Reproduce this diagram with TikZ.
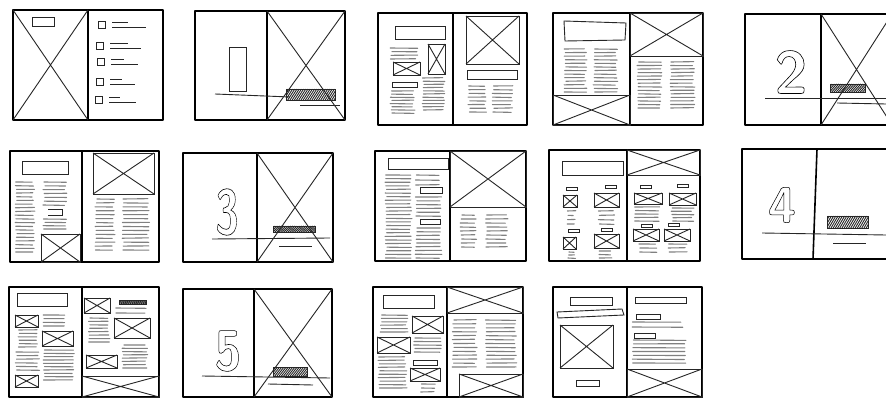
\documentclass[tikz,border=0pt]{standalone}
\tikzset{
  frm/.style={line width=1.6pt, black, line join=round},
  thn/.style={line width=0.9pt, black!85},
  txt/.style={line width=1.1pt, black!50, line cap=round},
  hatchl/.style={line width=0.9pt, black!85},
  digit/.style={inner sep=0pt, font=\sffamily\bfseries\fontsize{60}{60}\selectfont}
}
\newcommand\outl[1]{\special{pdf:literal direct 1 Tr 0.6 w}#1\special{pdf:literal direct 0 Tr}}
\newcommand\spread[5]{\draw[frm] (#1,#2) rectangle (#3,#4); \draw[frm] (#5,#2) -- (#5,#4);}
\newcommand\imgx[4]{\draw[thn] (#1,#2) rectangle (#3,#4); \draw[thn] (#1,#2) -- (#3,#4) (#1,#4) -- (#3,#2);}
\newcommand\rbox[4]{\draw[thn] (#1,#2) rectangle (#3,#4);}
\newcommand\tlines[5]{%
  \pgfmathsetmacro\tlstep{(#4-#2)/max(#5-1,1)}%
  \foreach \i in {1,...,#5}{%
    \draw[txt] ({#1+2*rnd},{#2+(\i-1)*\tlstep}) -- ({#3-3*rnd},{#2+(\i-1)*\tlstep+0.8*(rnd-0.5)});
  }%
}
\newcommand\hatchbar[4]{%
  \begin{scope}
    \clip (#1,#2) rectangle (#3,#4);
    \foreach \k in {0,2.2,...,66} \draw[hatchl] ({#1+\k-7},#4) -- ({#1+\k},#2);
  \end{scope}
  \draw[thn] (#1,#2) rectangle (#3,#4);}
\begin{document}
\begin{tikzpicture}[x=1pt,y=-1pt]
\pgfmathsetseed{7}
\fill[white] (0,0) rectangle (886,398);
\clip (0,0) rectangle (886,398);

% ---------- 1 ----------
\spread{13}{10}{163}{120}{88}
\draw[thn] (13,10) -- (88,120) (88,10) -- (13,120);
\rbox{32}{17}{54}{26}
\foreach \sx/\sy/\la/\lb in {98/21/128/146, 96/42/128/141, 97/58/124/138, 96/78/122/135, 95/96/120/136}{
  \draw[thn] (\sx,\sy) rectangle ++(7,7);
  \draw[thn] (\sx+14,\sy+1) -- (\la,\sy+1);
  \draw[thn] (\sx+14,\sy+6) -- (\lb,\sy+6);
}

% ---------- 2 ----------
\spread{195}{11}{345}{120}{267}
\draw[thn] (267,11) -- (345,120) (345,11) -- (267,120);
\rbox{229}{47}{246}{91}
\draw[thn] (215,94) -- (290,97);
\hatchbar{286}{89}{335}{100}
\draw[thn] (300,105) -- (340,105);

% ---------- 3 ----------
\spread{378}{13}{527}{125}{453}
\rbox{395}{26}{445}{39}
\tlines{390}{48}{418}{59}{4}
\imgx{393}{62}{420}{75}
\imgx{428}{44}{445}{74}
\rbox{392}{82}{417}{87}
\tlines{390}{91}{415}{113}{8}
\tlines{422}{78}{445}{110}{11}
\imgx{466}{16}{519}{64}
\rbox{467}{70}{517}{79}
\tlines{468}{86}{487}{112}{8}
\tlines{492}{86}{513}{112}{8}

% ---------- 4 ----------
\spread{553}{13}{703}{125}{630}
\imgx{630}{13}{703}{56}
\draw[thn] (564,21) -- (626,23) -- (625,40) -- (565,41) -- cycle;
\tlines{564}{49}{587}{92}{13}
\tlines{593}{49}{618}{92}{13}
\imgx{553}{95}{630}{125}
\tlines{637}{62}{662}{108}{14}
\tlines{670}{62}{695}{108}{14}

% ---------- 5 ----------
\spread{745}{14}{892}{125}{821}
\draw[thn] (821,14) -- (892,125) (892,14) -- (821,125);
\node[digit] (d2) at (791,72) {\outl{2}};
\draw[thn] (765,98) -- (886,98);
\hatchbar{830}{84}{865}{92}
\draw[thn] (837,103) -- (886,104);

% ---------- 6 ----------
\spread{10}{151}{159}{262}{82}
\rbox{22}{161}{68}{174}
\tlines{15}{182}{35}{252}{20}
\tlines{43}{182}{67}{205}{7}
\draw[thn] (48,209) -- (62,209) -- (62,215) -- (48,215);
\tlines{43}{219}{67}{229}{4}
\imgx{41}{234}{80}{262}
\imgx{93}{153}{154}{194}
\tlines{95}{199}{115}{250}{14}
\tlines{122}{199}{150}{250}{14}

% ---------- 7 ----------
\spread{183}{153}{333}{262}{257}
\draw[thn] (257,153) -- (333,262) (333,153) -- (257,262);
\node[digit] (d3) at (227,212) {\outl{\scalebox{0.7}[1.05]{3}}};
\draw[thn] (212,239) -- (330,238);
\hatchbar{273}{226}{315}{232}
\draw[thn] (279,246) -- (312,246);

% ---------- 8 ----------
\spread{375}{151}{526}{261}{450}
\imgx{450}{151}{526}{207}
\rbox{388}{158}{448}{169}
\tlines{385}{175}{412}{258}{24}
\tlines{415}{175}{442}{185}{3}
\rbox{420}{187}{442}{193}
\tlines{415}{197}{442}{216}{6}
\rbox{420}{219}{440}{224}
\tlines{415}{228}{442}{258}{9}
\tlines{460}{215}{477}{247}{9}
\tlines{485}{215}{508}{247}{9}

% ---------- 9 ----------
\spread{549}{150}{700}{261}{627}
\imgx{627}{150}{700}{175}
\rbox{562}{161}{623}{175}
\foreach \bx/\by/\ix/\iy/\jx/\jy in {
  566/187/563/195/577/207, 605/185/594/193/619/207,
  568/229/563/237/576/249, 601/228/594/234/619/248,
  640/185/634/193/662/204, 677/184/669/193/696/205,
  641/224/633/229/659/241, 668/223/664/229/690/241}{
  \draw[thn] (\bx,\by) rectangle ++(11,3);
  \imgx{\ix}{\iy}{\jx}{\jy}
}
\tlines{567}{211}{576}{224}{4}
\tlines{598}{211}{615}{224}{4}
\tlines{567}{252}{577}{258}{3}
\tlines{598}{251}{613}{258}{3}
\tlines{634}{207}{661}{221}{5}
\tlines{671}{208}{694}{221}{5}
\tlines{638}{244}{657}{252}{3}
\tlines{668}{244}{688}{252}{3}

% ---------- 10 ----------
\draw[frm] (742,149) rectangle (895,259);
\draw[frm] (817,149) -- (813,259);
\node[digit] (d4) at (782,205) {\outl{\scalebox{0.85}[0.85]{4}}};
\draw[thn] (762,233) -- (886,235);
\hatchbar{827}{216}{868}{228}
\draw[thn] (833,243) -- (866,243);

% ---------- 11 ----------
\spread{9}{287}{159}{397}{82}
\rbox{17}{293}{67}{306}
\imgx{15}{315}{38}{327}
\tlines{42}{315}{65}{326}{4}
\tlines{18}{330}{38}{347}{6}
\imgx{42}{331}{73}{346}
\tlines{15}{352}{40}{370}{6}
\tlines{43}{350}{75}{380}{10}
\imgx{15}{375}{38}{387}
\imgx{84}{298}{110}{313}
\hatchbar{119}{300}{146}{304}
\tlines{115}{308}{147}{313}{2}
\tlines{88}{318}{110}{342}{8}
\imgx{114}{318}{150}{338}
\imgx{86}{355}{117}{368}
\tlines{122}{345}{148}{368}{8}
\imgx{82}{376}{159}{397}

% ---------- 12 ----------
\spread{183}{289}{332}{397}{254}
\draw[thn] (254,289) -- (332,397) (332,289) -- (254,397);
\node[digit] (d5) at (228,351) {\outl{\scalebox{0.8}[0.95]{5}}};
\draw[thn] (202,376) -- (330,378);
\hatchbar{273}{367}{307}{376}
\draw[thn] (268,384) -- (313,385);

% ---------- 13 ----------
\spread{373}{287}{523}{397}{447}
\rbox{383}{295}{434}{308}
\tlines{380}{315}{408}{332}{6}
\imgx{412}{316}{443}{333}
\imgx{377}{337}{410}{353}
\tlines{413}{338}{442}{352}{5}
\tlines{378}{357}{407}{388}{10}
\rbox{413}{360}{437}{365}
\imgx{410}{368}{440}{381}
\tlines{420}{384}{437}{392}{3}
\imgx{447}{287}{523}{313}
\tlines{452}{320}{477}{367}{13}
\tlines{485}{320}{517}{367}{13}
\imgx{459}{374}{523}{397}

% ---------- 14 ----------
\spread{553}{287}{702}{397}{627}
\rbox{570}{297}{612}{305}
\draw[thn] (557,312) -- (622,309) -- (624,315) -- (558,318) -- cycle;
\imgx{560}{325}{613}{368}
\rbox{576}{380}{599}{386}
\rbox{635}{297}{686}{303}
\rbox{636}{314}{660}{319}
\tlines{632}{322}{683}{327}{2}
\rbox{634}{333}{655}{338}
\tlines{632}{340}{687}{363}{7}
\imgx{627}{369}{702}{397}
\end{tikzpicture}
\end{document}
